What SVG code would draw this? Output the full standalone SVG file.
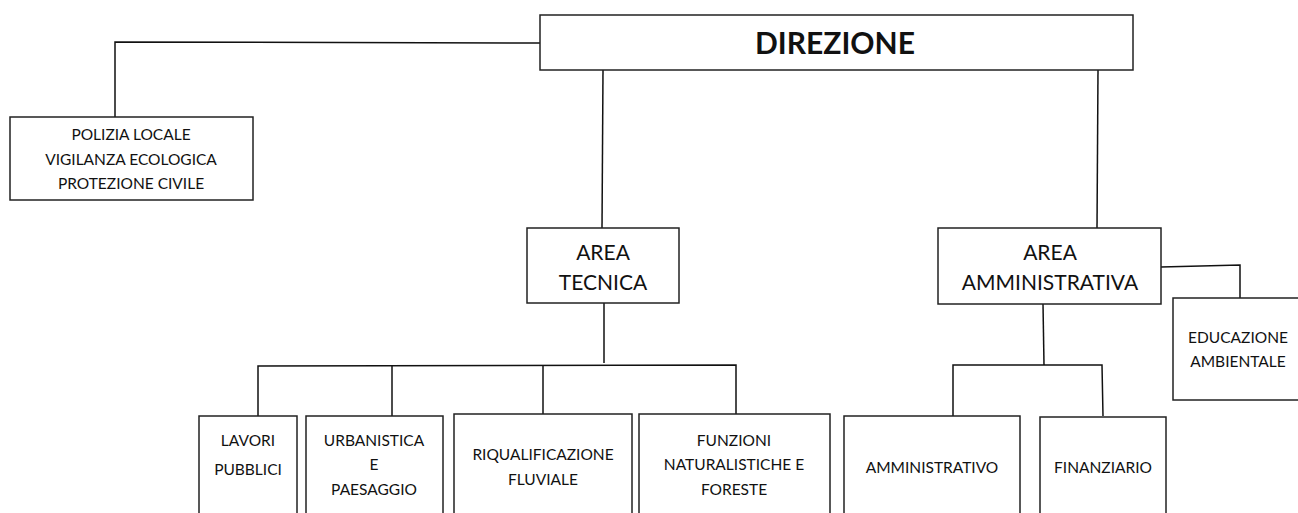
<svg xmlns="http://www.w3.org/2000/svg" width="1298" height="513" viewBox="0 0 1298 513">
<style>
.box{fill:#fff;stroke:#222;stroke-width:1.5}
.ln{fill:none;stroke:#111;stroke-width:1.5}
text{font-family:Lato,"Open Sans",sans-serif;fill:#111;text-anchor:middle}
.s{font-size:15.5px}
.m{font-size:21px}
.b{font-size:30px;font-weight:bold}
</style>
<rect width="1298" height="513" fill="#fff"/>
<g id="connectors">
<polyline class="ln" points="540,43 115,42 115,117"/>
<line class="ln" x1="603" y1="70" x2="602" y2="228"/>
<line class="ln" x1="1098" y1="70" x2="1097" y2="228"/>
<polyline class="ln" points="604,303 604,363"/>
<polyline class="ln" points="258,416 258,366 736,365 736,414"/>
<line class="ln" x1="392" y1="366" x2="392" y2="416"/>
<line class="ln" x1="543" y1="366" x2="543" y2="414"/>
<polyline class="ln" points="1161,267 1240,265 1240,298"/>
<line class="ln" x1="1043" y1="304" x2="1044" y2="365"/>
<polyline class="ln" points="953,416 953,365 1102,365 1103,416"/>
</g>
<g id="direzione">
<rect class="box" x="540" y="15" width="593" height="55"/>
<text class="b" x="835" y="54">DIREZIONE</text>
</g>
<g id="polizia">
<rect class="box" x="10" y="117" width="243" height="83"/>
<text class="s" x="131" y="140">POLIZIA LOCALE</text>
<text class="s" x="131" y="165">VIGILANZA ECOLOGICA</text>
<text class="s" x="131" y="189">PROTEZIONE CIVILE</text>
</g>
<g id="area-tecnica">
<rect class="box" x="527" y="228" width="152" height="75"/>
<text class="m" x="603" y="260">AREA</text>
<text class="m" x="603" y="290">TECNICA</text>
</g>
<g id="area-amministrativa">
<rect class="box" x="938" y="228" width="223" height="76"/>
<text class="m" x="1050" y="260">AREA</text>
<text class="m" x="1050" y="290">AMMINISTRATIVA</text>
</g>
<g id="educazione">
<rect class="box" x="1173" y="298" width="130" height="102"/>
<text class="s" x="1238" y="343">EDUCAZIONE</text>
<text class="s" x="1238" y="367">AMBIENTALE</text>
</g>
<g id="lavori">
<rect class="box" x="199" y="416" width="98" height="100"/>
<text class="s" x="248" y="446">LAVORI</text>
<text class="s" x="248" y="475">PUBBLICI</text>
</g>
<g id="urbanistica">
<rect class="box" x="306" y="416" width="137" height="100"/>
<text class="s" x="374" y="446">URBANISTICA</text>
<text class="s" x="374" y="470">E</text>
<text class="s" x="374" y="495">PAESAGGIO</text>
</g>
<g id="riqualificazione">
<rect class="box" x="454" y="414" width="178" height="102"/>
<text class="s" x="543" y="460">RIQUALIFICAZIONE</text>
<text class="s" x="543" y="485">FLUVIALE</text>
</g>
<g id="funzioni">
<rect class="box" x="639" y="414" width="191" height="102"/>
<text class="s" x="734" y="446">FUNZIONI</text>
<text class="s" x="734" y="470">NATURALISTICHE E</text>
<text class="s" x="734" y="495">FORESTE</text>
</g>
<g id="amministrativo">
<rect class="box" x="844" y="416" width="176" height="100"/>
<text class="s" x="932" y="473">AMMINISTRATIVO</text>
</g>
<g id="finanziario">
<rect class="box" x="1040" y="417" width="126" height="99"/>
<text class="s" x="1103" y="473">FINANZIARIO</text>
</g>
</svg>
